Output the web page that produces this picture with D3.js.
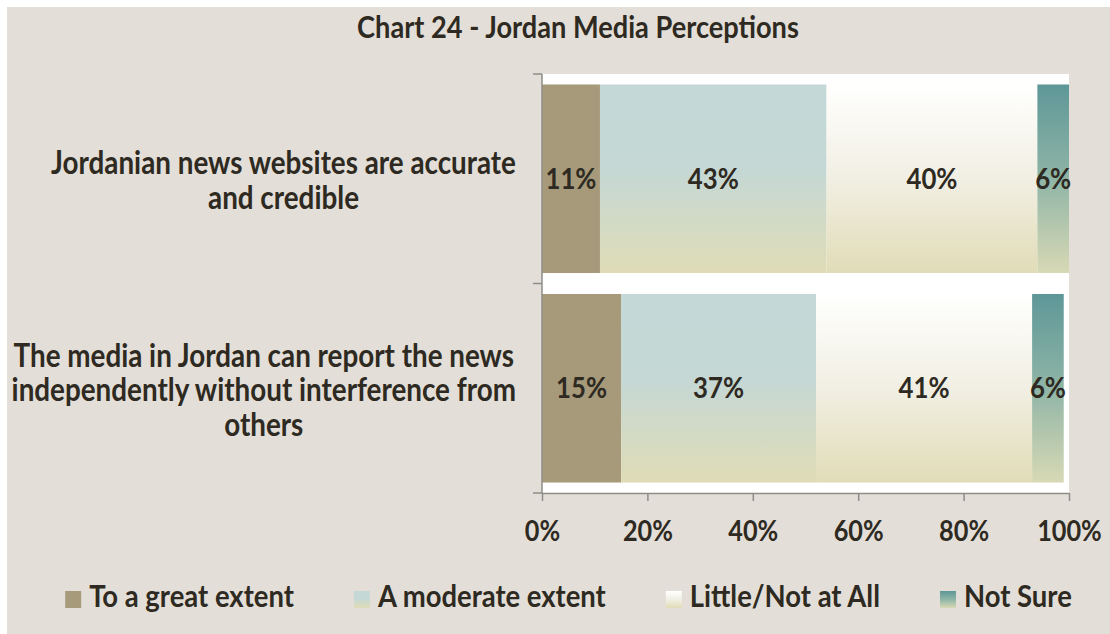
<!DOCTYPE html>
<html>
<head>
<meta charset="utf-8">
<script src="https://cdn.jsdelivr.net/npm/d3@7"></script>
<style>
  html, body { margin: 0; padding: 0; background: #ffffff; }
  svg { display: block; }
  text { font-family: Lato, "Open Sans", sans-serif; font-weight: 700; fill: #2E2A22; }
</style>
</head>
<body>
<svg id="chart" width="1110" height="634"></svg>
<script>
// ---------------- data ----------------
const title = "Chart 24 - Jordan Media Perceptions";
const categories = ["Jordanian news websites are accurate and credible",
                    "The media in Jordan can report the news independently without interference from others"];
const categoryLines = [["Jordanian news websites are accurate", "and credible"],
                       ["The media in Jordan can report the news", "independently without interference from", "others"]];
const seriesNames = ["To a great extent", "A moderate extent", "Little/Not at All", "Not Sure"];
const greatExtent = [11, 15];
const moderateExtent = [43, 37];
const littleNotAtAll = [40, 41];
const notSure = [6, 6];
const xTickValues = [0, 20, 40, 60, 80, 100];
const xTickLabels = ["0%", "20%", "40%", "60%", "80%", "100%"];

// ---------------- setup ----------------
const svg = d3.select("#chart");
const W = 1110, H = 634;
const textColor = "#2E2A22";
const axisColor = "#8E8C88";
const K = 0.88; // horizontal condensing to mimic a narrow bold face

function fitSize(sample, target) {
  const t = svg.append("text").attr("font-size", 100).text(sample);
  const w = t.node().getComputedTextLength();
  t.remove();
  return 100 * target / w / K;
}
const titleSize = fitSize(title, 442);
const catSize = fitSize(categoryLines[0][0], 465);
const dataSize = fitSize("43%", 51);
const tickSize = fitSize("20%", 50);
const legendSize = fitSize("A moderate extent", 228);

function condText(parent, x, y, size, str, anchor) {
  const g = parent.append("g").attr("transform", `translate(${x},${y}) scale(${K},1)`);
  const t = g.append("text").attr("x", 0).attr("y", 0).attr("font-size", size)
    .attr("text-anchor", anchor || "start").text(str);
  return { g, t, w: t.node().getComputedTextLength() * K };
}

// gradients
const defs = svg.append("defs");
function vGrad(id, stops) {
  const g = defs.append("linearGradient").attr("id", id)
    .attr("x1", 0).attr("y1", 0).attr("x2", 0).attr("y2", 1);
  stops.forEach(s => g.append("stop").attr("offset", s[0]).attr("stop-color", s[1]));
}
vGrad("gGreat", [[0, "#A69A7B"], [1, "#A69A7B"]]);
vGrad("gModerate", [[0, "#C4D8D7"], [0.45, "#C5D8D5"], [1, "#DFDCB6"]]);
vGrad("gLittle", [[0, "#FFFFFE"], [0.5, "#F1EFE3"], [1, "#E1DCB7"]]);
vGrad("gNotSure", [[0, "#5E9798"], [0.5, "#8FB5A6"], [1, "#D8D9B5"]]);
const fills = ["url(#gGreat)", "url(#gModerate)", "url(#gLittle)", "url(#gNotSure)"];

// background
svg.append("rect").attr("x", 7).attr("y", 7).attr("width", W - 7).attr("height", H - 7)
  .attr("fill", "#E3DFD8");

// title
condText(svg, 578, 38, titleSize, title, "middle");

// scales
const plot = { left: 542, right: 1069, top: 74, bottom: 493 };
const x = d3.scaleLinear().domain([0, 100]).range([plot.left, plot.right]);
const y = d3.scaleBand().domain(categories).range([plot.top, plot.bottom])
  .paddingInner(0.1).paddingOuter(0.05);

// plot area
svg.append("rect").attr("x", plot.left).attr("y", plot.top)
  .attr("width", plot.right - plot.left).attr("height", plot.bottom - plot.top)
  .attr("fill", "#FFFFFF");

// stacked data
const rows = categories.map((c, i) => ({
  cat: c,
  [seriesNames[0]]: greatExtent[i],
  [seriesNames[1]]: moderateExtent[i],
  [seriesNames[2]]: littleNotAtAll[i],
  [seriesNames[3]]: notSure[i]
}));
const stacked = d3.stack().keys(seriesNames)(rows);

const layers = svg.append("g").selectAll("g").data(stacked).join("g")
  .attr("fill", (d, i) => fills[i]);
layers.selectAll("rect").data(d => d).join("rect")
  .attr("x", d => x(d[0]))
  .attr("y", d => y(d.data.cat))
  .attr("width", d => x(d[1]) - x(d[0]))
  .attr("height", y.bandwidth());

// data labels
const labelG = svg.append("g");
stacked.forEach(layer => {
  layer.forEach(d => {
    condText(labelG, (x(d[0]) + x(d[1])) / 2, y(d.data.cat) + y.bandwidth() / 2 + 10,
      dataSize, (d[1] - d[0]) + "%", "middle");
  });
});

// y axis
const yAxis = svg.append("g");
yAxis.append("line").attr("x1", plot.left).attr("x2", plot.left)
  .attr("y1", plot.top).attr("y2", plot.bottom)
  .attr("stroke", axisColor).attr("stroke-width", 1.5);
const yTickPos = [plot.top, ...categories.slice(1).map(c => y(c) - y.step() * y.paddingInner() / 2), plot.bottom];
yTickPos.forEach(p => {
  yAxis.append("line").attr("x1", plot.left - 9).attr("x2", plot.left)
    .attr("y1", p).attr("y2", p).attr("stroke", axisColor).attr("stroke-width", 1.5);
});

// category labels
const lineGap = 34.5;
categories.forEach((c, i) => {
  const lines = categoryLines[i];
  const g = svg.append("g");
  const t = g.append("text").attr("font-size", catSize).attr("text-anchor", "middle");
  let maxW = 0;
  const tspans = lines.map(ln => {
    const ts = t.append("tspan").text(ln);
    maxW = Math.max(maxW, ts.node().getComputedTextLength());
    return ts;
  });
  const cx = 516 - maxW * K / 2;
  const cy = y(c) + y.bandwidth() / 2;
  g.attr("transform", `translate(${cx},0) scale(${K},1)`);
  tspans.forEach((ts, j) => {
    ts.attr("x", 0).attr("y", cy + (j - (lines.length - 1) / 2) * lineGap + 13);
  });
});

// x axis
const xAxis = svg.append("g").attr("transform", `translate(0,${plot.bottom})`)
  .call(d3.axisBottom(x).tickValues(xTickValues).tickSize(8).tickSizeOuter(0)
    .tickFormat((d, i) => xTickLabels[i]));
xAxis.attr("font-family", null).attr("font-size", null);
xAxis.select(".domain").attr("stroke", axisColor).attr("stroke-width", 1.5);
xAxis.selectAll(".tick line").attr("stroke", axisColor).attr("stroke-width", 1.5);
xAxis.selectAll(".tick text")
  .attr("fill", textColor)
  .attr("font-size", tickSize).attr("dy", null).attr("y", 541 - plot.bottom)
  .attr("transform", `scale(${K},1)`);

// legend
const swatch = 16, swGap = 8, itemGap = 60;
const legend = svg.append("g");
const items = seriesNames.map((s, i) => {
  const g = legend.append("g");
  g.append("rect").attr("x", 0).attr("y", 591).attr("width", swatch).attr("height", 17)
    .attr("fill", fills[i]);
  const ct = condText(g, swatch + swGap, 607, legendSize, s, "start");
  return { g, w: swatch + swGap + ct.w };
});
const totalW = d3.sum(items, d => d.w) + itemGap * (items.length - 1);
let lx = 568.5 - totalW / 2;
items.forEach(it => { it.g.attr("transform", `translate(${lx},0)`); lx += it.w + itemGap; });
</script>
</body>
</html>
